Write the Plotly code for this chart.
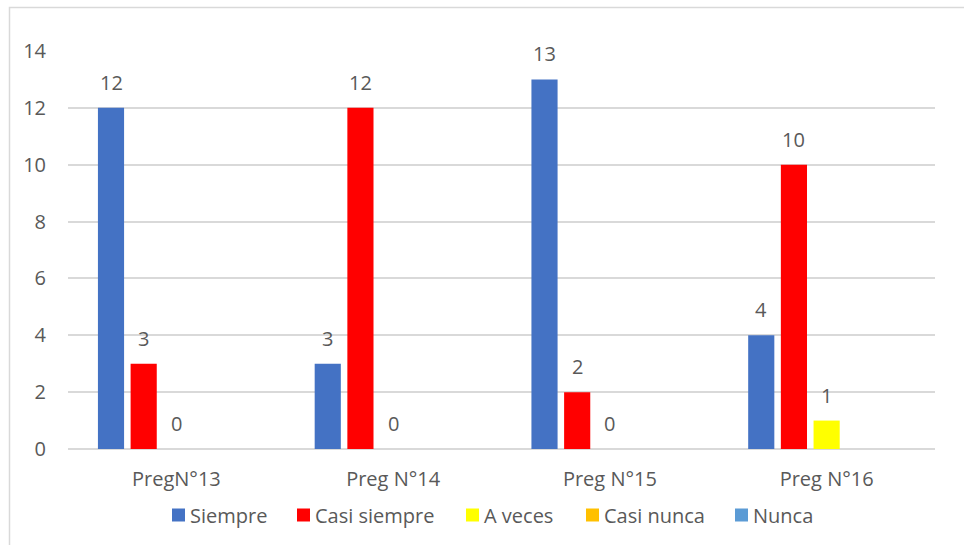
import plotly.graph_objects as go

# Survey answers per question
categories = ["PregN°13", "Preg N°14", "Preg N°15", "Preg N°16"]
series_names = ["Siempre", "Casi siempre", "A veces", "Casi nunca", "Nunca"]
siempre = [12, 3, 13, 4]
casi_siempre = [3, 12, 2, 10]
a_veces = [0, 0, 0, 1]
casi_nunca = [None, None, None, None]
nunca = [None, None, None, None]
y_ticks = [0, 2, 4, 6, 8, 10, 12, 14]

colors = ["#4472C4", "#FF0000", "#FFFF00", "#FFC000", "#5B9BD5"]
values = [siempre, casi_siempre, a_veces, casi_nunca, nunca]

W, H = 964, 545
ML, MR, MT, MB = 68, 29, 51, 96
BARGAP = 0.246
plot_w = W - ML - MR
plot_h = H - MT - MB
slot_px = plot_w / len(categories) * (1 - BARGAP) / len(series_names)

TEXT = "#595959"
GRID = "#D9D9D9"
FONT = "Open Sans"
FS = 20


def px_x(px):
    return (px - ML) / plot_w


def px_y(py):
    return (H - MB - py) / plot_h


fig = go.Figure()
for name, vals, col in zip(series_names, values, colors):
    fig.add_trace(go.Bar(name=name, x=categories, y=vals, marker_color=col,
                         marker_line_width=0))

# value labels above the bars
annotations = []
for i, vals in enumerate(values):
    for cat, v in zip(categories, vals):
        if v is None:
            continue
        annotations.append(dict(
            x=cat, y=v, xref="x", yref="y", text=str(v), showarrow=False,
            xshift=(i - (len(series_names) - 1) / 2) * slot_px,
            yshift=10, yanchor="bottom",
            font=dict(family=FONT, size=FS, color=TEXT)))

# outer chart frame
shapes = [dict(type="rect", xref="paper", yref="paper",
               x0=px_x(9.5), x1=1.2, y0=-0.4, y1=px_y(7.5),
               line=dict(color=GRID, width=1.5), fillcolor="rgba(0,0,0,0)",
               layer="below")]

# legend row below the category labels: colour key + name
legend_left_px = [172, 297, 466, 586, 735]
KEY = 13
LEG_Y = 515
for name, col, lx in zip(series_names, colors, legend_left_px):
    shapes.append(dict(type="rect", xref="paper", yref="paper",
                       x0=px_x(lx), x1=px_x(lx + KEY),
                       y0=px_y(LEG_Y + KEY / 2), y1=px_y(LEG_Y - KEY / 2),
                       line=dict(width=0), fillcolor=col))
    annotations.append(dict(
        x=px_x(lx + KEY + 3), y=px_y(LEG_Y), xref="paper", yref="paper",
        text=name, showarrow=False, xanchor="left", yanchor="middle",
        font=dict(family=FONT, size=FS, color=TEXT)))

fig.update_layout(
    width=W, height=H,
    margin=dict(l=ML, r=MR, t=MT, b=MB),
    paper_bgcolor="white", plot_bgcolor="white",
    barmode="group", bargap=BARGAP, bargroupgap=0.2,
    font=dict(family=FONT, size=FS, color=TEXT),
    showlegend=False,
    xaxis=dict(showgrid=False, showline=False, zeroline=False,
               ticks="outside", ticklen=12, tickcolor="rgba(0,0,0,0)",
               tickfont=dict(family=FONT, size=FS, color=TEXT)),
    yaxis=dict(range=[0, 14], tickvals=y_ticks, showgrid=True,
               gridcolor=GRID, gridwidth=1.5, zeroline=True,
               zerolinecolor=GRID, zerolinewidth=1.5, showline=False,
               ticks="outside", ticklen=17, tickcolor="rgba(0,0,0,0)",
               tickfont=dict(family=FONT, size=FS, color=TEXT)),
    annotations=annotations,
    shapes=shapes,
)

fig.write_html("out.html")
